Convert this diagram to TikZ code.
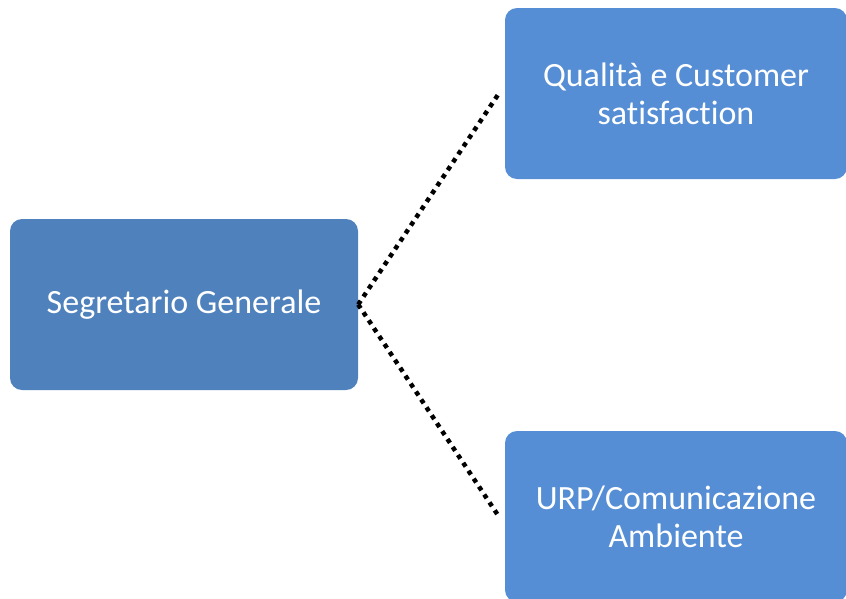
\documentclass[tikz,border=0pt]{standalone}
\usepackage{fontspec}
\setmainfont[Ligatures=NoCommon]{Carlito}
\definecolor{boxdark}{HTML}{4F81BD}
\definecolor{boxlight}{HTML}{558ED5}
\begin{document}
\begin{tikzpicture}[x=1pt,y=-1pt,
  orgbox/.style={rounded corners=12pt, inner sep=0pt, minimum width=#1, minimum height=171pt, text=white, font=\fontsize{34}{38}\selectfont, align=center},
  conn/.style={line width=4.5pt, dash pattern=on 4.5pt off 5pt, black}]
\useasboundingbox (0,0) rectangle (846,598);
\node[orgbox=348pt, fill=boxdark] (sg) at (184,304.5) {Segretario Generale};
\node[orgbox=342pt, fill=boxlight] (qc) at (676,93.5) {Qualità e Customer\\satisfaction};
\node[orgbox=342pt, fill=boxlight] (urp) at (676,516.5) {URP/Comunicazione\\Ambiente};
\draw[conn] (sg.east) -- ([xshift=-6pt]qc.west);
\draw[conn] (sg.east) -- ([xshift=-6pt]urp.west);
\end{tikzpicture}
\end{document}
